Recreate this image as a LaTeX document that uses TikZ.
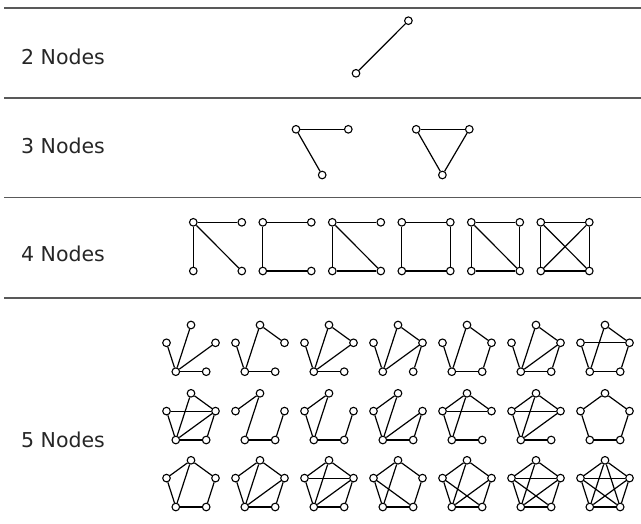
\documentclass[tikz,border=0pt]{standalone}
\usepackage{fontspec}
\setmainfont{DejaVu Sans}
\newcommand\mkpent[3]{%
  \node[vtx] (#1t) at ({#2},{#3-25.8}) {};
  \node[vtx] (#1l) at ({#2-24.5},{#3-8}) {};
  \node[vtx] (#1r) at ({#2+24.5},{#3-8}) {};
  \node[vtx] (#1a) at ({#2-15.2},{#3+20.9}) {};
  \node[vtx] (#1b) at ({#2+15.2},{#3+20.9}) {};
}
\newcommand\mksq[3]{%
  \node[vtx] (#1p) at ({#2},{#3}) {};
  \node[vtx] (#1q) at ({#2+48.5},{#3}) {};
  \node[vtx] (#1s) at ({#2},{#3+48.7}) {};
  \node[vtx] (#1u) at ({#2+48.5},{#3+48.7}) {};
}
\newcommand\gedges[2]{\foreach \u/\v in {#2} {\draw[edge] (#1\u) -- (#1\v);}}
\begin{document}
\begin{tikzpicture}[x=1pt,y=-1pt,
  vtx/.style={circle,draw=black,fill=white,inner sep=0pt,minimum size=7.6pt,line width=1.1pt},
  edge/.style={draw=black,line width=1.2pt},
  rowrule/.style={draw=black!65,line width=1.6pt},
  lbl/.style={anchor=base west,inner sep=0pt,font=\fontsize{20.5}{24}\selectfont,text=black!85}]
\useasboundingbox (0,0) rectangle (641,523);
% rules
\coordinate (r0a) at (4,8);    \coordinate (r0b) at (641,8);
\coordinate (r1a) at (4,97.7); \coordinate (r1b) at (641,97.7);
\coordinate (r2a) at (4,197.3);\coordinate (r2b) at (641,197.3);
\coordinate (r3a) at (4,298);  \coordinate (r3b) at (641,298);
\draw[rowrule] (r0a) -- (r0b);
\draw[rowrule] (r1a) -- (r1b);
\draw[rowrule] (r2a) -- (r2b);
\draw[rowrule] (r3a) -- (r3b);
% labels
\node[lbl] (l2) at (21,64.2) {2 Nodes};
\node[lbl] (l3) at (21,153.7) {3 Nodes};
\node[lbl] (l4) at (21,261.5) {4 Nodes};
\node[lbl] (l5) at (21,447.5) {5 Nodes};
% 2 nodes
\node[vtx] (a1) at (356,73.3) {};
\node[vtx] (a2) at (408.4,20.7) {};
\draw[edge] (a1) -- (a2);
% 3 nodes
\node[vtx] (b1) at (296,129.3) {};
\node[vtx] (b2) at (348.3,129.3) {};
\node[vtx] (b3) at (322.2,175) {};
\draw[edge] (b1) -- (b2);
\draw[edge] (b1) -- (b3);
\node[vtx] (c1) at (416.2,129.3) {};
\node[vtx] (c2) at (469.3,129.3) {};
\node[vtx] (c3) at (442.4,175) {};
\draw[edge] (c1) -- (c2);
\draw[edge] (c1) -- (c3);
\draw[edge] (c2) -- (c3);
% 4 nodes
\mksq{q1}{193.3}{222.3}
\mksq{q2}{262.8}{222.3}
\mksq{q3}{332.3}{222.3}
\mksq{q4}{401.8}{222.3}
\mksq{q5}{471.3}{222.3}
\mksq{q6}{540.8}{222.3}
\gedges{q1}{p/q,p/s,p/u}
\gedges{q2}{p/q,p/s,s/u}
\gedges{q3}{p/q,p/s,p/u,s/u}
\gedges{q4}{p/q,q/u,u/s,s/p}
\gedges{q5}{p/q,q/u,u/s,s/p,p/u}
\gedges{q6}{p/q,q/u,u/s,s/p,p/u,q/s}
% 5 nodes row 1
\mkpent{e1}{191}{350.8}
\mkpent{e2}{260}{350.8}
\mkpent{e3}{329}{350.8}
\mkpent{e4}{398}{350.8}
\mkpent{e5}{467}{350.8}
\mkpent{e6}{536}{350.8}
\mkpent{e7}{605}{350.8}
\gedges{e1}{a/t,a/l,a/r,a/b}
\gedges{e2}{a/l,a/t,t/r,a/b}
\gedges{e3}{a/l,a/t,t/r,a/r,a/b}
\gedges{e4}{a/l,a/t,t/r,a/r,r/b}
\gedges{e5}{a/l,a/t,t/r,r/b,a/b}
\gedges{e6}{a/l,a/t,t/r,a/r,r/b,a/b}
\gedges{e7}{l/r,a/l,a/t,t/r,r/b,a/b}
% row 2
\mkpent{f1}{191}{419.1}
\mkpent{f2}{260}{419.1}
\mkpent{f3}{329}{419.1}
\mkpent{f4}{398}{419.1}
\mkpent{f5}{467}{419.1}
\mkpent{f6}{536}{419.1}
\mkpent{f7}{605}{419.1}
\gedges{f1}{l/r,l/a,a/t,t/r,a/r,r/b,a/b}
\gedges{f2}{l/t,t/a,a/b,b/r}
\gedges{f3}{l/t,t/a,l/a,a/b,b/r}
\gedges{f4}{l/t,l/a,t/a,a/r,r/b,a/b}
\gedges{f5}{l/t,t/r,l/r,l/a,t/a,a/b}
\gedges{f6}{l/t,t/r,l/r,l/a,t/a,a/r,a/b}
\gedges{f7}{t/l,t/r,l/a,r/b,a/b}
% row 3
\mkpent{g1}{191}{486.1}
\mkpent{g2}{260}{486.1}
\mkpent{g3}{329}{486.1}
\mkpent{g4}{398}{486.1}
\mkpent{g5}{467}{486.1}
\mkpent{g6}{536}{486.1}
\mkpent{g7}{605}{486.1}
\gedges{g1}{t/l,t/r,l/a,r/b,a/b,t/a}
\gedges{g2}{t/l,t/r,l/a,r/b,a/b,t/a,a/r}
\gedges{g3}{t/l,t/r,l/a,r/b,a/b,t/a,a/r,l/r}
\gedges{g4}{t/l,t/r,l/a,r/b,a/b,t/a,l/b}
\gedges{g5}{t/l,t/r,l/a,r/b,a/b,t/a,l/b,r/a}
\gedges{g6}{t/l,t/r,l/a,r/b,a/b,t/a,l/b,r/a,l/r}
\gedges{g7}{t/l,t/r,l/a,r/b,a/b,t/a,t/b,l/b,r/a,l/r}
\end{tikzpicture}
\end{document}
